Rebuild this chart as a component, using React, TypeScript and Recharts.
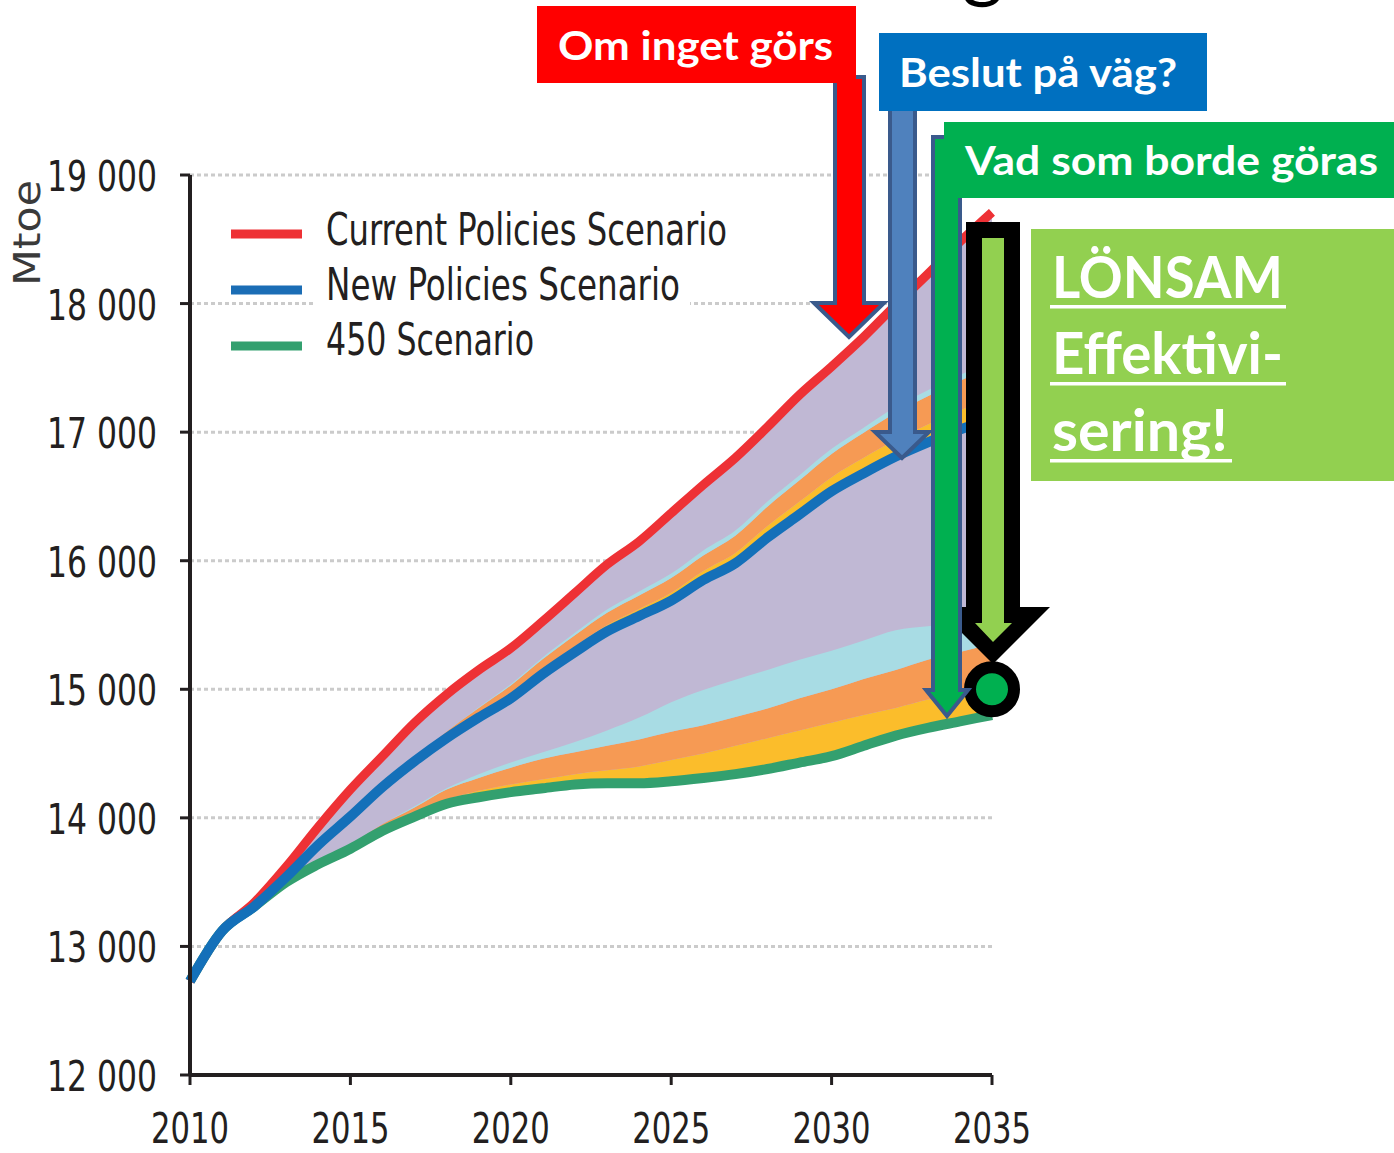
import { ComposedChart, Area, Line, XAxis, YAxis, CartesianGrid, ReferenceDot } from 'recharts';

const years = [2010, 2011, 2012, 2013, 2014, 2015, 2016, 2017, 2018, 2019, 2020, 2021, 2022, 2023, 2024, 2025, 2026, 2027, 2028, 2029, 2030, 2031, 2032, 2033, 2034, 2035];

const currentPolicies = [12730, 13120, 13340, 13620, 13930, 14220, 14480, 14740, 14960, 15150, 15320, 15530, 15750, 15970, 16150, 16370, 16590, 16800, 17040, 17290, 17510, 17740, 17990, 18230, 18480, 18710];
const newPolicies = [12730, 13120, 13310, 13540, 13790, 14010, 14240, 14440, 14620, 14780, 14930, 15120, 15290, 15450, 15570, 15690, 15850, 15980, 16180, 16360, 16540, 16680, 16810, 16920, 17020, 17100];
const scenario450 = [12730, 13120, 13310, 13500, 13640, 13760, 13900, 14010, 14110, 14160, 14200, 14230, 14260, 14270, 14270, 14285, 14310, 14340, 14380, 14430, 14480, 14560, 14640, 14700, 14750, 14800];

// wedge edges above the 450 line
const lowYellowTop = [12730, 13120, 13310, 13500, 13640, 13760, 13910, 14030, 14140, 14210, 14260, 14300, 14340, 14370, 14400, 14450, 14500, 14560, 14620, 14680, 14740, 14800, 14855, 14920, 14970, 15020];
const lowOrangeTop = [12730, 13120, 13310, 13500, 13640, 13790, 13950, 14080, 14220, 14310, 14390, 14460, 14510, 14560, 14610, 14670, 14720, 14785, 14850, 14930, 15000, 15080, 15150, 15230, 15290, 15350];
const lowCyanTop = [12730, 13120, 13310, 13500, 13640, 13790, 13950, 14090, 14230, 14340, 14430, 14510, 14590, 14680, 14780, 14900, 14995, 15075, 15150, 15230, 15300, 15380, 15460, 15490, 15520, 15560];

// wedge edges above the New Policies line
const upYellowTop = [12730, 13120, 13310, 13540, 13790, 14010, 14240, 14440, 14635, 14805, 14965, 15160, 15335, 15500, 15625, 15750, 15920, 16060, 16270, 16460, 16650, 16800, 16940, 17060, 17170, 17260];
const upOrangeTop = [12730, 13120, 13310, 13540, 13790, 14010, 14240, 14460, 14670, 14855, 15030, 15235, 15420, 15595, 15730, 15865, 16040, 16195, 16420, 16625, 16830, 16995, 17150, 17280, 17400, 17500];
const upCyanTop = [12730, 13120, 13310, 13540, 13790, 14010, 14240, 14460, 14670, 14860, 15040, 15250, 15440, 15620, 15760, 15900, 16080, 16235, 16460, 16665, 16870, 17035, 17195, 17325, 17445, 17550];

const xTicks = [2010, 2015, 2020, 2025, 2030, 2035];
const yTicks = [12000, 13000, 14000, 15000, 16000, 17000, 18000, 19000];
const yTickLabels = ['12 000', '13 000', '14 000', '15 000', '16 000', '17 000', '18 000', '19 000'];

const legendItems = [
  { name: 'Current Policies Scenario', color: '#ee3135', width: 401 },
  { name: 'New Policies Scenario', color: '#1b6db5', width: 354 },
  { name: '450 Scenario', color: '#33a06f', width: 208 },
];

const rows = years.map((year, i) => ({
  year,
  red: currentPolicies[i],
  blue: newPolicies[i],
  green: scenario450[i],
  purple: [scenario450[i], currentPolicies[i]],
  lowY: [scenario450[i], lowYellowTop[i]],
  lowO: [lowYellowTop[i], lowOrangeTop[i]],
  lowC: [lowOrangeTop[i], lowCyanTop[i]],
  upY: [newPolicies[i], upYellowTop[i]],
  upO: [upYellowTop[i], upOrangeTop[i]],
  upC: [upOrangeTop[i], upCyanTop[i]],
}));

const narrow = "'Liberation Sans Narrow', 'DejaVu Sans Condensed', 'Liberation Sans', sans-serif";
const bold = "Lato, 'Open Sans', sans-serif";
const ink = '#231f20';
const outline = '#3a5a8c';

function XTick({ x, y, payload }: any) {
  return (
    <text x={x} y={y} dy={28} textAnchor="middle" fontSize={42} fontFamily={narrow} fill={ink} textLength={78} lengthAdjust="spacingAndGlyphs">
      {payload.value}
    </text>
  );
}

function YTick({ x, y, payload }: any) {
  return (
    <text x={x} y={y} dy={16} textAnchor="end" fontSize={42} fontFamily={narrow} fill={ink} textLength={110} lengthAdjust="spacingAndGlyphs">
      {yTickLabels[yTicks.indexOf(payload.value)]}
    </text>
  );
}

export default function App() {
  const band = (key: string, color: string) => (
    <Area
      key={key}
      dataKey={key}
      type="monotone"
      stroke="none"
      fill={color}
      fillOpacity={1}
      dot={false}
      activeDot={false}
      isAnimationActive={false}
    />
  );

  return (
    <div style={{ position: 'absolute', left: 0, top: 0, width: 1394, height: 1153, background: '#fff', overflow: 'hidden' }}>
      <ComposedChart width={1394} height={1153} data={rows} margin={{ top: 175, right: 402, bottom: 0, left: 50 }}>
        <CartesianGrid vertical={false} stroke="#cbcbcb" strokeWidth={3} strokeDasharray="4 3" />
        <XAxis
          dataKey="year"
          type="number"
          domain={[2010, 2035]}
          ticks={xTicks}
          height={78}
          tickSize={10}
          tickMargin={30}
          axisLine={{ stroke: ink, strokeWidth: 4 }}
          tickLine={{ stroke: ink, strokeWidth: 3 }}
          tick={<XTick />}
        />
        <YAxis
          type="number"
          domain={[12000, 19000]}
          ticks={yTicks}
          width={140}
          tickSize={10}
          tickMargin={23}
          axisLine={{ stroke: ink, strokeWidth: 4 }}
          tickLine={{ stroke: ink, strokeWidth: 3 }}
          tick={<YTick />}
        />
        {band('purple', '#c0b8d4')}
        {band('lowY', '#fbbd2b')}
        {band('lowO', '#f69a54')}
        {band('lowC', '#a8dce4')}
        {band('upY', '#fbbd2b')}
        {band('upO', '#f69a54')}
        {band('upC', '#a8dce4')}
        <Line dataKey="green" type="monotone" stroke="#33a06f" strokeWidth={10} dot={false} activeDot={false} isAnimationActive={false} />
        <Line dataKey="red" type="monotone" stroke="#ee3135" strokeWidth={9} dot={false} activeDot={false} isAnimationActive={false} />
        <Line dataKey="blue" type="monotone" stroke="#1470b9" strokeWidth={10} dot={false} activeDot={false} isAnimationActive={false} />
        <ReferenceDot x={2035} y={15000} r={22} fill="#00b050" stroke="#000" strokeWidth={12} ifOverflow="visible" />
      </ComposedChart>

      <svg width={1394} height={1153} style={{ position: 'absolute', left: 0, top: 0, pointerEvents: 'none' }}>
        {/* cut-off slide title */}
        <text x={962} y={-8} fontSize={80} fontFamily={bold} fill="#000">g</text>

        <text transform="translate(40,233) rotate(-90)" textAnchor="middle" fontSize={38} fontFamily={narrow} fill="#3a3a3a" textLength={106} lengthAdjust="spacingAndGlyphs">Mtoe</text>

        {/* legend */}
        <rect x={316} y={296} width={374} height={16} fill="#fff" />
        {legendItems.map((it, i) => (
          <g key={it.name}>
            <line x1={231} x2={302} y1={234 + i * 56} y2={234 + i * 56} stroke={it.color} strokeWidth={9} />
            <text x={326} y={245 + i * 55} fontSize={45} fontFamily={narrow} fill={ink} textLength={it.width} lengthAdjust="spacingAndGlyphs">{it.name}</text>
          </g>
        ))}

        {/* red arrow */}
        <polygon points="835,77 864,77 864,303 884,303 849,337 814,303 835,303" fill="#ff0000" stroke={outline} strokeWidth={4} />
        {/* blue arrow */}
        <polygon points="890,108 915,108 915,432 929,432 902,458 875,432 890,432" fill="#4f81bd" stroke={outline} strokeWidth={4} />
        {/* black / light green arrow */}
        <polygon points="966,222 1020,222 1020,607 1050,607 993,664 936,607 966,607" fill="#000" />
        <polygon points="982,238 1004,238 1004,623 1012,623 993,642 975,623 982,623" fill="#92d050" />
        {/* green arrow */}
        <polygon points="933,137 960,137 960,690 968,690 947,716 926,690 933,690" fill="#00b050" stroke={outline} strokeWidth={4} />

        {/* labels */}
        <rect x={537} y={6} width={319} height={77} fill="#ff0000" />
        <text x={558} y={60} fontSize={41} fontWeight={700} fontFamily={bold} fill="#fff" textLength={275} lengthAdjust="spacingAndGlyphs">Om inget görs</text>
        <rect x={879} y={33} width={328} height={78} fill="#0070c0" />
        <text x={899} y={87} fontSize={41} fontWeight={700} fontFamily={bold} fill="#fff" textLength={278} lengthAdjust="spacingAndGlyphs">Beslut på väg?</text>
        <rect x={944} y={122} width={450} height={76} fill="#00b050" />
        <text x={965} y={175} fontSize={41} fontWeight={700} fontFamily={bold} fill="#fff" textLength={413} lengthAdjust="spacingAndGlyphs">Vad som borde göras</text>

        <rect x={1031} y={229} width={363} height={252} fill="#92d050" />
        <text x={1052} y={298} fontSize={57} fontWeight={700} fontFamily={bold} fill="#fff" textLength={231} lengthAdjust="spacingAndGlyphs">LÖNSAM</text>
        <rect x={1050} y={305} width={236} height={3.5} fill="#fff" />
        <text x={1052} y={374} fontSize={57} fontWeight={700} fontFamily={bold} fill="#fff" textLength={231} lengthAdjust="spacingAndGlyphs">Effektivi-</text>
        <rect x={1050} y={382} width={236} height={3.5} fill="#fff" />
        <text x={1052} y={451} fontSize={57} fontWeight={700} fontFamily={bold} fill="#fff" textLength={176} lengthAdjust="spacingAndGlyphs">sering!</text>
        <rect x={1050} y={459} width={182} height={3.5} fill="#fff" />
      </svg>
    </div>
  );
}
